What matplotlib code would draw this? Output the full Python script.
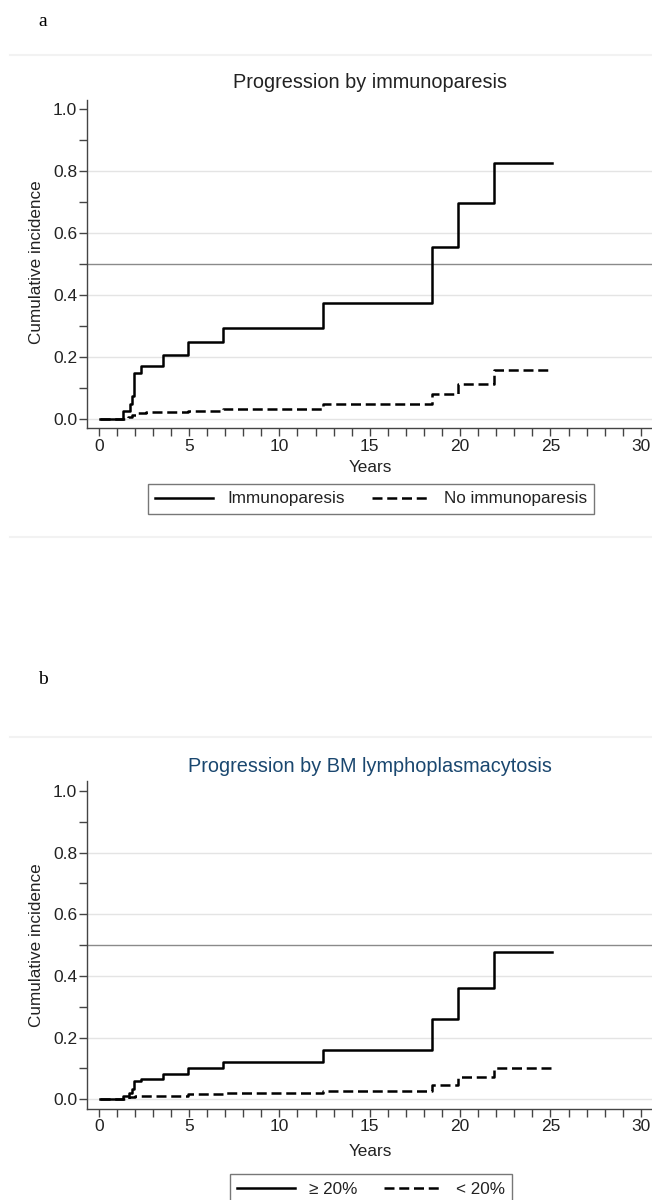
import matplotlib
matplotlib.use("Agg")
import matplotlib.pyplot as plt
from matplotlib.lines import Line2D
from matplotlib.ticker import MultipleLocator

# ---------------- data ----------------
# Panel a: progression by immunoparesis
imm_t = [0.05, 1.35, 1.75, 1.85, 1.95, 2.35, 3.55, 4.95, 6.9, 12.4, 18.45, 19.9, 21.85, 25.1]
imm_v = [0.0, 0.027, 0.05, 0.075, 0.147, 0.172, 0.206, 0.248, 0.295, 0.374, 0.556, 0.698, 0.826, 0.826]
noimm_t = [0.05, 1.6, 1.85, 2.2, 2.6, 4.95, 6.9, 12.4, 18.45, 19.9, 21.85, 24.95]
noimm_v = [0.0, 0.006, 0.012, 0.018, 0.021, 0.025, 0.033, 0.048, 0.081, 0.113, 0.158, 0.158]

# Panel b: progression by BM lymphoplasmacytosis
hi_t = [0.05, 1.35, 1.7, 1.85, 1.95, 2.35, 3.55, 4.95, 6.9, 12.4, 18.45, 19.9, 21.85, 25.1]
hi_v = [0.0, 0.011, 0.02, 0.035, 0.058, 0.067, 0.081, 0.100, 0.121, 0.160, 0.260, 0.360, 0.479, 0.479]
lo_t = [0.05, 1.7, 2.0, 4.95, 6.9, 12.4, 18.45, 19.9, 21.85, 25.1]
lo_v = [0.0, 0.008, 0.012, 0.017, 0.022, 0.027, 0.045, 0.071, 0.103, 0.103]

x_ticks = [0, 5, 10, 15, 20, 25, 30]
y_ticks = [0.0, 0.2, 0.4, 0.6, 0.8, 1.0]
grid_levels = [0.0, 0.2, 0.4, 0.6, 0.8]
ref_level = 0.5

titles = ["Progression by immunoparesis", "Progression by BM lymphoplasmacytosis"]
title_colors = ["#222222", "#1a476f"]
legend_labels = [["Immunoparesis", "No immunoparesis"], ["\u2265 20%", "< 20%"]]
panel_letters = ["a", "b"]

# ---------------- figure ----------------
plt.rcParams['font.family'] = ['Liberation Sans', 'DejaVu Sans']
W, H = 652, 1200
fig = plt.figure(figsize=(W / 100, H / 100), dpi=100)
fig.patch.set_facecolor("white")


def fx(px):
    return px / W


def fy(py):
    return 1 - py / H


AX_COLOR = "#444444"
TXT_COLOR = "#222222"
DASH = (0, (4.0, 1.9))

panels = [
    dict(top=100, bottom=428, y1=109, y0=419, series=[(imm_t, imm_v), (noimm_t, noimm_v)],
         title_y=82, ylab_y=262, tick_y_pad=2.5, years_y=468, leg_y=499, letter_y=22, sep=[55, 537]),
    dict(top=781, bottom=1109.3, y1=791, y0=1099.3, series=[(hi_t, hi_v), (lo_t, lo_v)],
         title_y=767, ylab_y=945, tick_y_pad=1.5, years_y=1152, leg_y=1189, letter_y=680, sep=[737]),
]

left_px, right_px = 87, 652
x0_px, px_per_year = 98.7, 18.07

for i, p in enumerate(panels):
    ax = fig.add_axes([fx(left_px), fy(p["bottom"]), fx(right_px - left_px),
                       (p["bottom"] - p["top"]) / H])
    ppu = p["y0"] - p["y1"]
    ax.set_ylim(-(p["bottom"] - p["y0"]) / ppu, 1 + (p["y1"] - p["top"]) / ppu)
    ax.set_xlim((left_px - x0_px) / px_per_year, (right_px - x0_px) / px_per_year)

    for g in grid_levels:
        ax.axhline(g, color="#e4e4e4", lw=1.0, zorder=0)
    ax.axhline(ref_level, color="#8a8a8a", lw=1.0, zorder=1)

    (t1, v1), (t2, v2) = p["series"]
    l1, = ax.step(t1, v1, where="post", color="black", lw=1.8, zorder=3,
                  label=legend_labels[i][0])
    l2, = ax.step(t2, v2, where="post", color="black", lw=1.8, linestyle=DASH, zorder=3,
                  label=legend_labels[i][1])

    for s in ["top", "right"]:
        ax.spines[s].set_visible(False)
    for s in ["left", "bottom"]:
        ax.spines[s].set_color(AX_COLOR)
        ax.spines[s].set_linewidth(1.0)

    ax.set_xticks(x_ticks)
    ax.xaxis.set_minor_locator(MultipleLocator(1))
    ax.set_yticks(y_ticks)
    ax.set_yticklabels([f"{v:.1f}" for v in y_ticks])
    ax.yaxis.set_minor_locator(MultipleLocator(0.1))
    ax.tick_params(axis="both", which="both", direction="out", color=AX_COLOR,
                   width=1.0, length=5.5, labelsize=12.5, labelcolor=TXT_COLOR)
    ax.tick_params(axis="y", which="both", pad=1.5)
    ax.tick_params(axis="x", which="both", pad=p["tick_y_pad"])

    fig.text(fx(370), fy(p["title_y"]), titles[i], ha="center", va="center",
             fontsize=14.3, color=title_colors[i])
    fig.text(fx(37), fy(p["ylab_y"]), "Cumulative incidence", rotation=90,
             ha="center", va="center", fontsize=12.3, color=TXT_COLOR)
    fig.text(fx(370), fy(p["years_y"]), "Years", ha="center", va="center",
             fontsize=12.3, color=TXT_COLOR)
    fig.text(fx(43), fy(p["letter_y"]), panel_letters[i], ha="center", va="center",
             fontsize=14, family="Liberation Serif", color="black")

    leg = fig.legend(handles=[l1, l2], loc="center", bbox_to_anchor=(fx(371), fy(p["leg_y"])),
                     ncol=2, fontsize=12.3, frameon=True, fancybox=False,
                     handlelength=3.4, handletextpad=0.8, columnspacing=1.6,
                     borderpad=0.42, borderaxespad=0)
    leg.get_frame().set_edgecolor("#555555")
    leg.get_frame().set_linewidth(1.0)
    for t in leg.get_texts():
        t.set_color(TXT_COLOR)

    for sy in p["sep"]:
        fig.add_artist(Line2D([fx(10), 1], [fy(sy), fy(sy)], color="#f2f2f2", lw=1.5))

fig.savefig("out.png", dpi=100, facecolor="white")
